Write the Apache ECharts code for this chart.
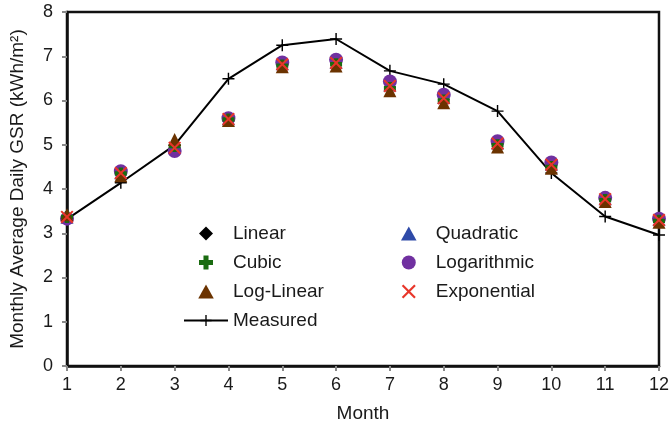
<!DOCTYPE html>
<html>
<head>
<meta charset="utf-8">
<script src="https://cdn.jsdelivr.net/npm/echarts@6/dist/echarts.min.js"></script>
<style>
  html, body { margin: 0; padding: 0; background: #fff; }
  #chart { width: 672px; height: 429px; }
</style>
</head>
<body>
<div id="chart"></div>
<script>
// Monthly average daily global solar radiation: measured vs. fitted models
const months = [1, 2, 3, 4, 5, 6, 7, 8, 9, 10, 11, 12];
const measured    = [3.32, 4.14, 4.99, 6.49, 7.25, 7.39, 6.67, 6.37, 5.76, 4.36, 3.38, 2.96];
const linear      = [3.38, 4.36, 4.98, 5.58, 6.80, 6.83, 6.30, 6.02, 5.00, 4.52, 3.76, 3.29];
const quadratic   = [3.36, 4.37, 4.95, 5.59, 6.83, 6.86, 6.35, 6.07, 5.04, 4.56, 3.78, 3.31];
const logarithmic = [3.33, 4.40, 4.86, 5.60, 6.86, 6.92, 6.43, 6.13, 5.08, 4.60, 3.80, 3.33];
const cubic       = [3.37, 4.35, 4.97, 5.57, 6.79, 6.82, 6.28, 6.00, 4.99, 4.50, 3.75, 3.28];
const logLinear   = [3.42, 4.30, 5.12, 5.55, 6.76, 6.78, 6.22, 5.95, 4.95, 4.47, 3.72, 3.25];
const exponential = [3.37, 4.36, 4.93, 5.58, 6.82, 6.85, 6.33, 6.05, 5.03, 4.55, 3.77, 3.30];
const yTicks = [0, 1, 2, 3, 4, 5, 6, 7, 8];

const pair = arr => months.map((m, i) => [m, arr[i]]);

const FONT = '"Liberation Sans", Arial, sans-serif';
// Path symbols keep their aspect ratio inside the legend icon box
const PLUS_THIN = 'path://M4.4,0H5.6V4.4H10V5.6H5.6V10H4.4V5.6H0V4.4H4.4Z';
const PLUS_BOLD = 'path://M3.2,0H6.8V3.2H10V6.8H6.8V10H3.2V6.8H0V3.2H3.2Z';
const CROSS = 'path://M0,1.1L1.1,0L10,8.9L8.9,10ZM8.9,0L10,1.1L1.1,10L0,8.9Z';
const DIAMOND = 'path://M5,0L10,5L5,10L0,5Z';
const TRIANGLE = 'path://M5,0L10,9L0,9Z';
const CIRCLE = 'path://M5,0A5,5,0,1,1,4.99,0Z';

function modelSeries(name, data, symbol, size, color) {
  return {
    name, type: 'scatter', data: pair(data),
    symbol, symbolSize: size,
    itemStyle: { color, opacity: 1 },
    emphasis: { disabled: true }
  };
}

const legendText = { fontSize: 19, color: '#1a1a1a', fontFamily: FONT };

const chart = echarts.init(document.getElementById('chart'), null, { renderer: 'canvas' });

chart.setOption({
  animation: false,
  backgroundColor: '#fff',
  textStyle: { fontFamily: FONT },
  grid: {
    left: 66, right: 10, top: 12, bottom: 63,
    show: true, borderColor: '#111', borderWidth: 2.5, backgroundColor: '#fff'
  },
  legend: [
    {
      orient: 'vertical', left: 178, top: 219, itemGap: 10,
      itemWidth: 44, itemHeight: 14,
      textStyle: legendText,
      data: ['Linear', 'Cubic', 'Log-Linear', 'Measured'],
      selectedMode: false
    },
    {
      orient: 'vertical', left: 396, top: 219, itemGap: 10,
      itemWidth: 44, itemHeight: 14,
      textStyle: legendText,
      data: ['Quadratic', 'Logarithmic', 'Exponential'],
      selectedMode: false
    }
  ],
  xAxis: {
    type: 'value', min: 1, max: 12, interval: 1,
    name: 'Month', nameLocation: 'middle', nameGap: 38,
    nameTextStyle: { fontSize: 19, color: '#1a1a1a', fontFamily: FONT },
    axisLine: { lineStyle: { color: '#111', width: 2.5 } },
    axisTick: { show: true, inside: false, length: 5, lineStyle: { color: '#888', width: 2 } },
    axisLabel: { fontSize: 18, color: '#1a1a1a', margin: 10, fontFamily: FONT },
    splitLine: { show: false }
  },
  yAxis: {
    type: 'value', min: yTicks[0], max: yTicks[yTicks.length - 1], interval: 1,
    name: 'Monthly Average Daily GSR (kWh/m²)', nameLocation: 'middle', nameGap: 40,
    nameTextStyle: { fontSize: 19, color: '#1a1a1a', fontFamily: FONT },
    axisLine: { lineStyle: { color: '#111', width: 2.5 } },
    axisTick: { show: true, inside: false, length: 5, lineStyle: { color: '#888', width: 2 } },
    axisLabel: { fontSize: 18, color: '#1a1a1a', margin: 14, fontFamily: FONT },
    splitLine: { show: false }
  },
  series: [
    {
      name: 'Measured', type: 'line', data: pair(measured),
      symbol: PLUS_THIN, symbolSize: 12, showSymbol: true,
      lineStyle: { color: '#000', width: 2 },
      itemStyle: { color: '#000' },
      emphasis: { disabled: true }, z: 2
    },
    modelSeries('Linear', linear, DIAMOND, 12, '#000'),
    modelSeries('Quadratic', quadratic, TRIANGLE, 13, '#2e4aa8'),
    modelSeries('Logarithmic', logarithmic, CIRCLE, 14, '#7030a0'),
    modelSeries('Cubic', cubic, PLUS_BOLD, 12, '#1a6b10'),
    modelSeries('Log-Linear', logLinear, TRIANGLE, 13, '#6b3300'),
    modelSeries('Exponential', exponential, CROSS, 13, '#e8362a')
  ]
});
</script>
</body>
</html>
